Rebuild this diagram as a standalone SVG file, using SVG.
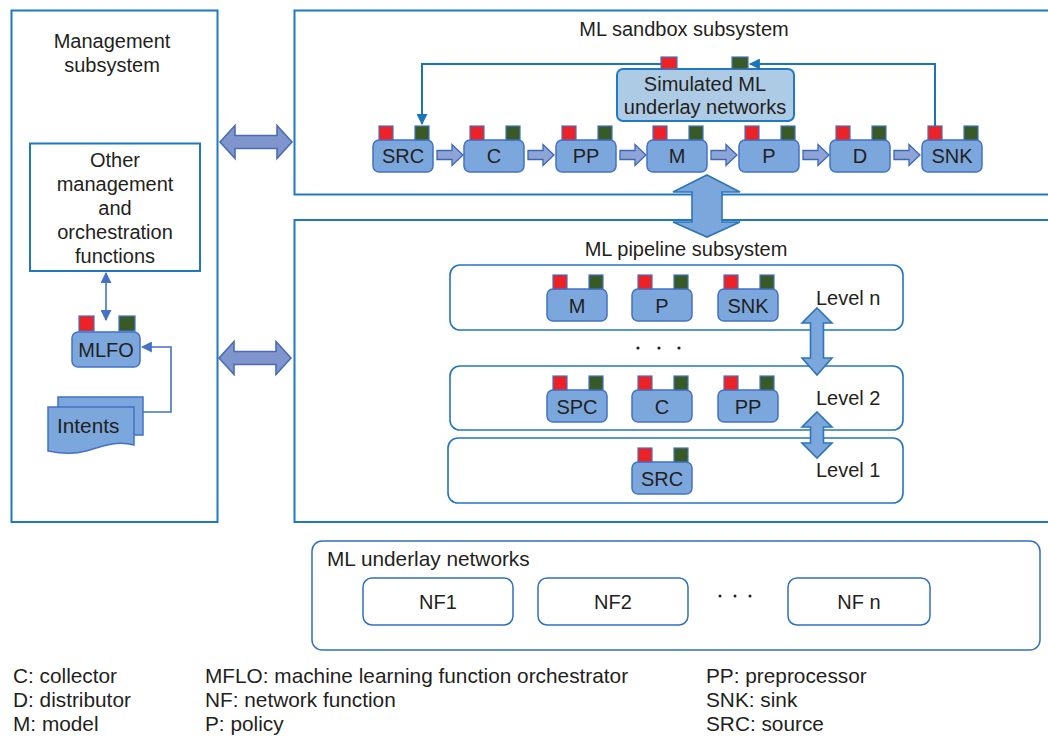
<svg xmlns="http://www.w3.org/2000/svg" xmlns:xlink="http://www.w3.org/1999/xlink" width="1048" height="736" viewBox="0 0 1048 736">
  <style>
    text { font-family: "Liberation Sans", Arial, sans-serif; fill: #231f20; }
    .t20 { font-size: 20px; }
    .t21 { font-size: 20.8px; }
    .mid { text-anchor: middle; }
    .frame { fill: #ffffff; stroke: #1f78c1; stroke-width: 2; }
    .level { fill: #ffffff; stroke: #2275c0; stroke-width: 1.6; }
    .nf { fill: #ffffff; stroke: #3070c0; stroke-width: 1.5; }
    .body { fill: #7ba7dc; stroke: #4472c4; stroke-width: 1.5; }
    .inport { fill: #ec2227; stroke: #4472c4; stroke-width: 1.2; }
    .outport { fill: #385a26; stroke: #4472c4; stroke-width: 1.2; }
    .flow { fill: #8fa4d6; stroke: #3b67b4; stroke-width: 1.3; }
    .bigarrow { fill: #7ba7dc; stroke: #2e75b6; stroke-width: 1.6; }
    .sidearrow { fill: #7f95cc; stroke: #4a6cb6; stroke-width: 1.6; }
    .feedback { fill: none; stroke: #1a75bc; stroke-width: 2; }
    .mgmt { fill: none; stroke: #4472c4; stroke-width: 1.6; }
  </style>
  <defs>
    <!-- function block: body with input (red) and output (green) ports -->
    <g id="fn">
      <rect class="body" x="0" y="14" width="60" height="32" rx="6"/>
      <rect class="inport" x="6" y="0" width="14" height="14"/>
      <rect class="outport" x="42" y="0" width="14" height="14"/>
    </g>
    <!-- small flow arrow between blocks -->
    <path id="step" d="M0,-4.5 H15 V-10.5 L26,0 L15,10.5 V4.5 H0 Z"/>
    <!-- horizontal double block arrow -->
    <path id="hdouble" d="M0,0 L15,-16.5 V-6.5 H57 V-16.5 L72,0 L57,16.5 V6.5 H15 V16.5 Z"/>
    <marker id="tipBlue" viewBox="0 0 10 10" refX="9" refY="5" markerWidth="11" markerHeight="11" orient="auto-start-reverse" markerUnits="userSpaceOnUse">
      <path d="M0,0 L10,5 L0,10 Z" fill="#1a75bc"/>
    </marker>
    <marker id="tipMgmt" viewBox="0 0 10 10" refX="9" refY="5" markerWidth="11" markerHeight="11" orient="auto-start-reverse" markerUnits="userSpaceOnUse">
      <path d="M0,0 L10,5 L0,10 Z" fill="#4472c4"/>
    </marker>
  </defs>

  <rect width="1048" height="736" fill="#ffffff"/>

  <!-- subsystem frames -->
  <g id="management-subsystem">
    <rect class="frame" x="11.5" y="10.5" width="206" height="511.5"/>
    <text class="t20 mid" x="112" y="48">Management</text>
    <text class="t20 mid" x="112" y="72">subsystem</text>
  </g>
  <g id="sandbox-subsystem">
    <rect class="frame" x="294.5" y="10.5" width="770" height="184"/>
    <text class="t20 mid" x="684" y="36">ML sandbox subsystem</text>
  </g>
  <g id="pipeline-subsystem">
    <rect class="frame" x="294.5" y="220" width="770" height="302"/>
    <text class="t20 mid" x="686" y="256">ML pipeline subsystem</text>
  </g>

  <!-- management internals -->
  <g id="other-functions">
    <rect class="frame" x="30" y="143.5" width="170" height="127.5" stroke-width="1.8"/>
    <text class="t20 mid" x="115" y="167">Other</text>
    <text class="t20 mid" x="115" y="191">management</text>
    <text class="t20 mid" x="115" y="215">and</text>
    <text class="t20 mid" x="115" y="239">orchestration</text>
    <text class="t20 mid" x="115" y="263">functions</text>
  </g>
  <g id="mlfo">
    <rect class="body" x="72" y="332" width="68" height="35" rx="6"/>
    <rect class="inport" x="79" y="316" width="15" height="15"/>
    <rect class="outport" x="119" y="316" width="16" height="15"/>
    <text class="t20 mid" x="106" y="357">MLFO</text>
  </g>
  <g id="intents">
    <rect class="body" x="58" y="397" width="85" height="38" rx="0"/>
    <path class="body" d="M48,407 H134 V445 C116,440 100,447 86,451 C72,455 58,453 48,451 Z"/>
    <text class="t21" x="57" y="433">Intents</text>
  </g>

  <!-- sandbox pipeline -->
  <g id="sim-underlay">
    <rect x="617" y="69" width="177" height="52" rx="6" fill="#aecbe6" stroke="#1f7ac3" stroke-width="2"/>
    <rect class="inport" x="661" y="57" width="16" height="12"/>
    <rect class="outport" x="732" y="57" width="16" height="12"/>
    <text class="t20 mid" x="705" y="91">Simulated ML</text>
    <text class="t20 mid" x="705" y="114">underlay networks</text>
  </g>
  <g id="sb-src"><use href="#fn" x="373" y="126"/><text class="t20 mid" x="403" y="163">SRC</text></g>
  <g id="sb-c"><use href="#fn" x="464" y="126"/><text class="t20 mid" x="494" y="163">C</text></g>
  <g id="sb-pp"><use href="#fn" x="556" y="126"/><text class="t20 mid" x="586" y="163">PP</text></g>
  <g id="sb-m"><use href="#fn" x="647" y="126"/><text class="t20 mid" x="677" y="163">M</text></g>
  <g id="sb-p"><use href="#fn" x="739" y="126"/><text class="t20 mid" x="769" y="163">P</text></g>
  <g id="sb-d"><use href="#fn" x="830" y="126"/><text class="t20 mid" x="860" y="163">D</text></g>
  <g id="sb-snk"><use href="#fn" x="922" y="126"/><text class="t20 mid" x="952" y="163">SNK</text></g>

  <!-- pipeline levels -->
  <g id="level-n">
    <rect class="level" x="450" y="265" width="453" height="65" rx="10"/>
    <text class="t20" x="816" y="305">Level n</text>
  </g>
  <g id="level-2">
    <rect class="level" x="450" y="366" width="453" height="64" rx="10"/>
    <text class="t20" x="816" y="405">Level 2</text>
  </g>
  <g id="level-1">
    <rect class="level" x="448" y="438" width="455" height="65" rx="10"/>
    <text class="t20" x="816" y="477">Level 1</text>
  </g>
  <g id="ln-m"><use href="#fn" x="547" y="275"/><text class="t20 mid" x="577" y="313">M</text></g>
  <g id="ln-p"><use href="#fn" x="632" y="275"/><text class="t20 mid" x="662" y="313">P</text></g>
  <g id="ln-snk"><use href="#fn" x="718" y="275"/><text class="t20 mid" x="748" y="313">SNK</text></g>
  <g id="l2-spc"><use href="#fn" x="547" y="376"/><text class="t20 mid" x="577" y="414">SPC</text></g>
  <g id="l2-c"><use href="#fn" x="632" y="376"/><text class="t20 mid" x="662" y="414">C</text></g>
  <g id="l2-pp"><use href="#fn" x="718" y="376"/><text class="t20 mid" x="748" y="414">PP</text></g>
  <g id="l1-src"><use href="#fn" x="632" y="448"/><text class="t20 mid" x="662" y="486">SRC</text></g>
  <g id="level-gap">
    <circle cx="638" cy="348" r="1.6" fill="#231f20"/>
    <circle cx="659" cy="348" r="1.6" fill="#231f20"/>
    <circle cx="679" cy="348" r="1.6" fill="#231f20"/>
  </g>

  <!-- underlay networks -->
  <g id="underlay">
    <rect class="nf" x="312" y="541" width="728" height="109" rx="10"/>
    <text class="t21" x="327" y="566">ML underlay networks</text>
  </g>
  <g id="nf1"><rect class="nf" x="363" y="578" width="150" height="47" rx="9"/><text class="t20 mid" x="438" y="609">NF1</text></g>
  <g id="nf2"><rect class="nf" x="538" y="578" width="150" height="47" rx="9"/><text class="t20 mid" x="613" y="609">NF2</text></g>
  <g id="nf-gap">
    <circle cx="720" cy="596" r="1.5" fill="#231f20"/>
    <circle cx="735" cy="596" r="1.5" fill="#231f20"/>
    <circle cx="750" cy="596" r="1.5" fill="#231f20"/>
  </g>
  <g id="nfn"><rect class="nf" x="788" y="578" width="142" height="47" rx="9"/><text class="t20 mid" x="859" y="609">NF n</text></g>

  <!-- connectors -->
  <g id="connectors">
    <use class="flow" href="#step" x="437" y="155"/>
    <use class="flow" href="#step" x="528" y="155"/>
    <use class="flow" href="#step" x="620" y="155"/>
    <use class="flow" href="#step" x="711" y="155"/>
    <use class="flow" href="#step" x="803" y="155"/>
    <use class="flow" href="#step" x="894" y="155"/>

    <path class="feedback" d="M661,64 H422 V124" marker-end="url(#tipBlue)"/>
    <path class="feedback" d="M935,126 V64 H750" marker-end="url(#tipBlue)"/>

    <use class="sidearrow" href="#hdouble" x="220" y="142"/>
    <use class="sidearrow" href="#hdouble" x="219" y="358"/>

    <path class="bigarrow" d="M707,175 L740,192 H722 V222 H740 L707,237 L673,222 H692 V192 H673 Z"/>
    <path class="bigarrow" d="M817,308 L832,323 H823.5 V358 H832 L817,375 L802,358 H810.5 V323 H802 Z"/>
    <path class="bigarrow" d="M817,412 L832,427 H823.5 V443 H832 L817,458 L802,443 H810.5 V427 H802 Z"/>

    <path class="mgmt" d="M106,273 V320" marker-start="url(#tipMgmt)" marker-end="url(#tipMgmt)"/>
    <path class="mgmt" d="M143,412 H171 V347 H142" marker-end="url(#tipMgmt)"/>
  </g>

  <!-- abbreviations -->
  <g id="legend">
    <text class="t21" x="13" y="683">C: collector</text>
    <text class="t21" x="13" y="707">D: distributor</text>
    <text class="t21" x="13" y="731">M: model</text>
    <text class="t21" x="205" y="683">MFLO: machine learning function orchestrator</text>
    <text class="t21" x="205" y="707">NF: network function</text>
    <text class="t21" x="205" y="731">P: policy</text>
    <text class="t21" x="706" y="683">PP: preprocessor</text>
    <text class="t21" x="706" y="707">SNK: sink</text>
    <text class="t21" x="706" y="731">SRC: source</text>
  </g>
</svg>
